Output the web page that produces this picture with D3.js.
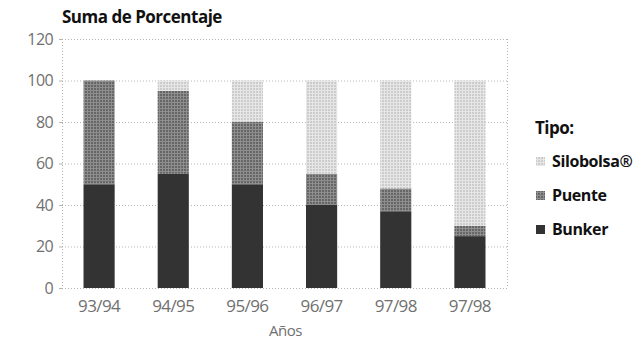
<!DOCTYPE html>
<html><head><meta charset="utf-8">
<script src="https://cdn.jsdelivr.net/npm/d3@7"></script>
<style>body{margin:0;background:#fff}svg{display:block}</style>
</head><body><svg id="c" width="644" height="342"></svg>
<script>
const categories = ["93/94","94/95","95/96","96/97","97/98","97/98 "];
const bunker = [50,55,50,40,37,25];
const puente = [50,40,30,15,11,5];
const silobolsa = [0,5,20,45,52,70];
const yTicks = [0,20,40,60,80,100,120];
const seriesNames = ["Bunker","Puente","Silobolsa®"];
const legendOrder = ["Silobolsa®","Puente","Bunker"];

const svg = d3.select("#c");
const defs = svg.append("defs");
function pat(id,bg,dot){
  const p = defs.append("pattern").attr("id",id).attr("width",3).attr("height",3).attr("patternUnits","userSpaceOnUse");
  p.append("rect").attr("width",3).attr("height",3).attr("fill",bg);
  p.append("rect").attr("width",3).attr("height",1).attr("fill",dot);
  p.append("rect").attr("width",1).attr("height",3).attr("fill",dot);
}
pat("pPuente","#666666","#8e8e8e");
pat("pSilo","#cccccc","#e6e6e6");
const fills = {"Bunker":"#333333","Puente":"url(#pPuente)","Silobolsa®":"url(#pSilo)"};

const L=62,R=507,T=39,B=288;
const x = d3.scaleBand().domain(categories).range([L,R]).paddingInner(0.58).paddingOuter(0.29);
const y = d3.scaleLinear().domain([0,120]).range([B,T]);

const font = "'Open Sans', sans-serif";
// grid
const g = svg.append("g");
g.selectAll("line.h").data(yTicks).join("line")
  .attr("x1",L).attr("x2",R).attr("y1",d=>y(d)+0.5).attr("y2",d=>y(d)+0.5)
  .attr("stroke","#b5b5b5").attr("stroke-dasharray","1,2");
[L,R].forEach(xx=>g.append("line").attr("x1",xx+0.5).attr("x2",xx+0.5).attr("y1",T).attr("y2",B)
  .attr("stroke","#b5b5b5").attr("stroke-dasharray","1,2"));

// y axis
const ya = svg.append("g").attr("transform",`translate(${L},0)`)
  .call(d3.axisLeft(y).tickValues(yTicks).tickSize(3).tickPadding(6));
ya.select(".domain").remove();
ya.selectAll("line").attr("stroke","#b5b5b5");
ya.selectAll("text").attr("font-family",font).attr("font-size",16).attr("letter-spacing","-0.6").attr("fill","#707070");

// x axis
const xa = svg.append("g").attr("transform",`translate(0,${B})`)
  .call(d3.axisBottom(x).tickSize(0).tickPadding(12));
xa.select(".domain").remove();
xa.selectAll("text").attr("font-family",font).attr("font-size",17).attr("fill","#707070").attr("letter-spacing","-0.6");

// bars
const data = categories.map((c,i)=>({cat:c,"Bunker":bunker[i],"Puente":puente[i],"Silobolsa®":silobolsa[i]}));
const stack = d3.stack().keys(seriesNames)(data);
svg.append("g").selectAll("g").data(stack).join("g").attr("fill",d=>fills[d.key])
  .selectAll("rect").data(d=>d).join("rect")
  .attr("x",d=>x(d.data.cat)).attr("width",x.bandwidth())
  .attr("y",d=>y(d[1])).attr("height",d=>y(d[0])-y(d[1]));

// titles
svg.append("text").attr("x",62).attr("y",23).text("Suma de Porcentaje")
  .attr("font-family",font).attr("font-weight","bold").attr("font-size",17).attr("letter-spacing","-0.5").attr("fill","#111");
svg.append("text").attr("x",(L+R)/2+1).attr("y",336).attr("text-anchor","middle").text("Años")
  .attr("font-family",font).attr("font-size",15).attr("letter-spacing","-0.5").attr("fill","#707070");

// legend
const lg = svg.append("g");
lg.append("text").attr("x",535).attr("y",134).text("Tipo:")
  .attr("font-family",font).attr("font-weight","bold").attr("font-size",17).attr("letter-spacing","-0.5").attr("fill","#111");
legendOrder.forEach((k,i)=>{
  const yy = [161,195,229][i];
  lg.append("rect").attr("x",536).attr("y",yy-4).attr("width",9).attr("height",9).attr("fill",fills[k]);
  lg.append("text").attr("x",552).attr("y",yy+6).text(k)
    .attr("font-family",font).attr("font-weight","bold").attr("font-size",16).attr("letter-spacing","-0.4").attr("fill","#111");
});
</script></body></html>
